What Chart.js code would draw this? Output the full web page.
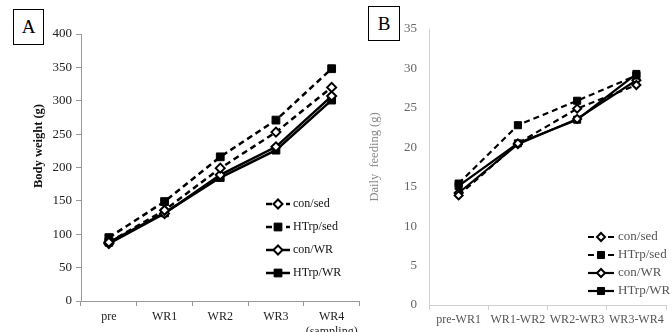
<!DOCTYPE html>
<html>
<head>
<meta charset="utf-8">
<script src="https://cdn.jsdelivr.net/npm/chart.js@4/dist/chart.umd.min.js"></script>
<style>
    body { margin: 0; background: #fff; }
    #wrap { position: relative; width: 672px; height: 332px; overflow: hidden; font-family: "Liberation Serif", serif; }
    canvas { position: absolute; top: 0; }
    #chartA { left: 0; }
    #chartB { left: 366px; }
    .panel-tag { position: absolute; border: 1px solid #000; font-size: 19px; text-align: center; background: #fff; }
    .ytitle { position: absolute; transform: rotate(-90deg); transform-origin: center; white-space: nowrap; text-align: center; }
</style>
</head>
<body>
<div id="wrap">
    <canvas id="chartA" width="366" height="332"></canvas>
    <canvas id="chartB" width="306" height="332"></canvas>
    <div class="panel-tag" style="left:13px;top:9px;width:29px;height:34px;line-height:34px;">A</div>
    <div class="panel-tag" style="left:368px;top:6px;width:30px;height:33px;line-height:33px;">B</div>
    <div class="ytitle" style="left:-11px;top:138px;width:100px;height:16px;font-size:12.5px;font-weight:bold;color:#111;">Body weight (g)</div>
    <div class="ytitle" style="left:325px;top:149px;width:100px;height:16px;font-size:12.5px;color:#8a8a8a;">Daily&nbsp; feeding (g)</div>
</div>
<script>
// Panel A - body weight (g)
const weightLabels = ['pre', 'WR1', 'WR2', 'WR3', ['WR4', '(sampling)']];
const weightConSed = [88, 136, 199, 253, 320];
const weightHtrpSed = [95, 149, 216, 271, 348];
const weightConWR = [86, 131, 189, 231, 307];
const weightHtrpWR = [88, 132, 185, 226, 301];
const weightTicks = [0, 50, 100, 150, 200, 250, 300, 350, 400];

// Panel B - daily feeding (g)
const feedLabels = ['pre-WR1', 'WR1-WR2', 'WR2-WR3', 'WR3-WR4'];
const feedConSed = [13.9, 20.5, 24.9, 27.9];
const feedHtrpSed = [15.4, 22.8, 25.9, 29.1];
const feedConWR = [14.2, 20.4, 23.6, 28.5];
const feedHtrpWR = [15.1, 20.5, 23.5, 29.3];
const feedTicks = [0, 5, 10, 15, 20, 25, 30, 35];

const seriesNames = ['con/sed', 'HTrp/sed', 'con/WR', 'HTrp/WR'];
const serif = '"Liberation Serif", "Times New Roman", serif';

// legend with a line sample and the marker on it
const lineLegend = {
    id: 'lineLegend',
    afterDraw(chart, args, opts) {
        const ctx = chart.ctx;
        chart.data.datasets.forEach((ds, i) => {
            const y = opts.y + i * opts.gap;
            ctx.save();
            ctx.strokeStyle = '#000';
            ctx.lineWidth = ds.borderWidth;
            ctx.setLineDash(ds.borderDash || []);
            ctx.beginPath();
            ctx.moveTo(opts.x, y);
            ctx.lineTo(opts.x + opts.len, y);
            ctx.stroke();
            ctx.setLineDash([]);
            ctx.fillStyle = ds.pointBackgroundColor;
            ctx.strokeStyle = '#000';
            ctx.lineWidth = ds.pointBorderWidth;
            Chart.helpers.drawPoint(ctx, {
                pointStyle: ds.pointStyle,
                radius: ds.pointRadius,
                borderWidth: ds.pointBorderWidth
            }, opts.x + opts.len / 2, y);
            ctx.fillStyle = opts.color;
            ctx.font = opts.size + 'px ' + serif;
            ctx.textBaseline = 'middle';
            ctx.fillText(ds.label, opts.x + opts.len + opts.textGap, y);
            ctx.restore();
        });
    }
};

function makeDatasets(values, lw, diamond, square) {
    return values.map((vals, i) => {
        const isCon = i % 2 === 0;
        return {
            label: seriesNames[i],
            data: vals,
            borderColor: '#000',
            borderWidth: lw,
            borderDash: i < 2 ? [6, 4] : [],
            pointStyle: isCon ? 'rectRot' : 'rect',
            pointRadius: isCon ? diamond : square,
            pointBorderWidth: isCon ? 2 : 1,
            pointBackgroundColor: isCon ? '#fff' : '#000',
            pointBorderColor: '#000',
            tension: 0
        };
    });
}

function axisX(color, size, tickColor, padding) {
    return {
        offset: true,
        grid: { display: true, offset: true, drawOnChartArea: false, drawTicks: true, tickLength: 5, color: tickColor },
        border: { color: tickColor, width: 1 },
        ticks: { color: color, padding: padding, font: { family: serif, size: size }, maxRotation: 0, autoSkip: false }
    };
}

// Panel A chart
new Chart(document.getElementById('chartA'), {
    type: 'line',
    data: {
        labels: weightLabels,
        datasets: makeDatasets([weightConSed, weightHtrpSed, weightConWR, weightHtrpWR], 2.5, 4.5, 5.5)
    },
    options: {
        responsive: false,
        animation: false,
        layout: { padding: { top: 34, right: 3, left: 0, bottom: 0 } },
        plugins: {
            legend: { display: false },
            tooltip: { enabled: false },
            lineLegend: { x: 266, y: 204, gap: 23, len: 24, textGap: 3, size: 12, color: '#111' }
        },
        scales: {
            x: Object.assign(axisX('#222', 12, '#999', 4), {
                afterFit: s => { s.height = 31; }
            }),
            y: {
                min: 0,
                max: 400,
                afterBuildTicks: s => { s.ticks = weightTicks.map(v => ({ value: v })); },
                afterFit: s => { s.width = 81; },
                grid: { drawOnChartArea: false, tickLength: 5, color: '#999' },
                border: { color: '#999', width: 1 },
                ticks: { color: '#222', padding: 4, font: { family: serif, size: 13 } }
            }
        }
    },
    plugins: [lineLegend]
});

// Panel B chart
new Chart(document.getElementById('chartB'), {
    type: 'line',
    data: {
        labels: feedLabels,
        datasets: makeDatasets([feedConSed, feedHtrpSed, feedConWR, feedHtrpWR], 2.2, 4, 5)
    },
    options: {
        responsive: false,
        animation: false,
        layout: { padding: { top: 29, right: 0, left: 0, bottom: 0 } },
        plugins: {
            legend: { display: false },
            tooltip: { enabled: false },
            lineLegend: { x: 222, y: 237, gap: 18, len: 26, textGap: 4, size: 13, color: '#555' }
        },
        scales: {
            x: Object.assign(axisX('#555', 12, '#d0d0d0', 3), {
                afterFit: s => { s.height = 27; }
            }),
            y: {
                min: 0,
                max: 35,
                afterBuildTicks: s => { s.ticks = feedTicks.map(v => ({ value: v })); },
                afterFit: s => { s.width = 63; },
                grid: { drawOnChartArea: false, drawTicks: false },
                border: { color: '#d0d0d0', width: 1 },
                ticks: { color: '#666', padding: 12, font: { family: serif, size: 13 } }
            }
        }
    },
    plugins: [lineLegend]
});
</script>
</body>
</html>
